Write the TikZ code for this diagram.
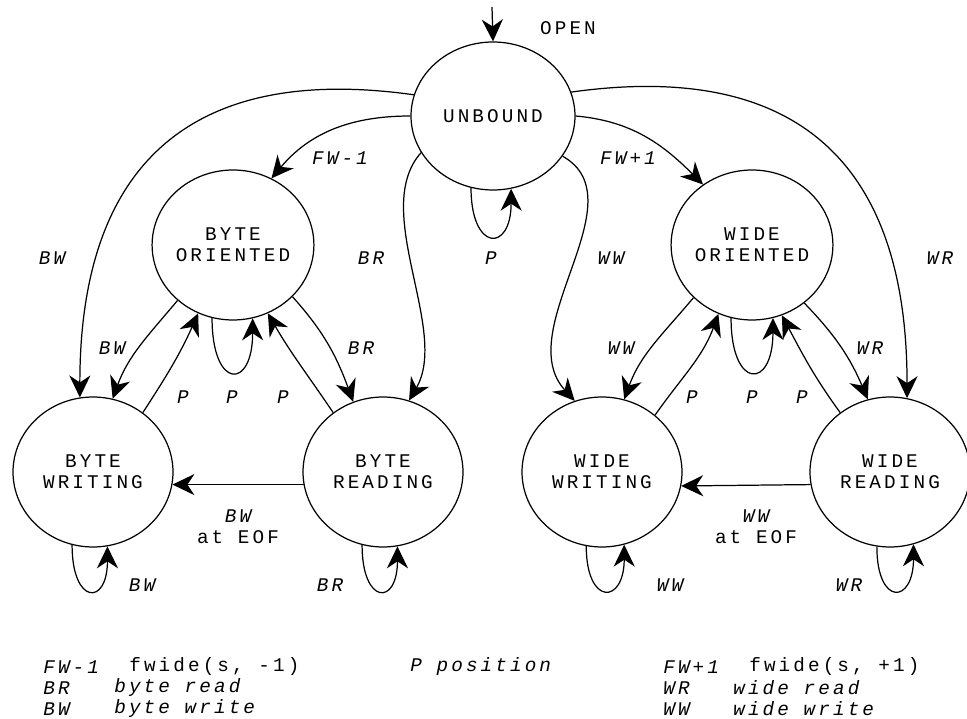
\documentclass[tikz,border=0pt]{standalone}
\usepackage{fontspec}
\setmonofont{Liberation Mono}[LetterSpace=16]
\usepackage{tikz}
\usetikzlibrary{shapes,arrows.meta}
\tikzstyle{state} = [ellipse, draw, line width=0.7pt, minimum width=3.2cm, minimum height=3cm, inner sep=0pt, align=center, font=\ttfamily\fontsize{11}{12}\selectfont]
\tikzstyle{line} = [draw, line width=0.7pt, -{Stealth[length=12.5pt,width=12pt,inset=4pt]}]
\tikzstyle{lbl} = [inner sep=0pt, align=center, font=\ttfamily\itshape\fontsize{11}{12}\selectfont]
\tikzstyle{key} = [inner sep=0pt, anchor=west, font=\ttfamily\itshape\fontsize{11}{12}\selectfont]
\tikzstyle{keytext} = [inner sep=0pt, anchor=west, font=\ttfamily\fontsize{11}{12}\selectfont]

\begin{document}
\begin{tikzpicture}[x=0.02cm, y=0.02cm]
\useasboundingbox (0,0) rectangle (967,-719);
\node [state, minimum width=3.28cm, minimum height=2.96cm] (unbound) at (493,-116) {UNBOUND};
\node [state] (byte-or) at (233,-245) {BYTE\\ORIENTED};
\node [state] (wide-or) at (752,-245) {WIDE\\ORIENTED};
\node [state] (byte-wr) at (93,-472) {BYTE\\WRITING};
\node [state] (byte-rd) at (383,-472) {BYTE\\READING};
\node [state] (wide-wr) at (602,-472) {WIDE\\WRITING};
\node [state] (wide-rd) at (890,-472) {WIDE\\READING};
\coordinate (open-in) at (492,-7);
\path [line] (open-in) -- (unbound.90);
\node [lbl, font=\ttfamily\fontsize{11}{12}\selectfont] (open-lbl) at (568,-28) {OPEN};
\path [line] (unbound.180) to[out=180,in=50] (byte-or.60);
\path [line] (unbound.165) to[out=172,in=90,looseness=1.3] (byte-wr.100);
\path [line] (unbound.207) .. controls (370,-210) and (450,-330) .. (byte-rd.70);
\path [line] (unbound.-107) .. controls +(0,-64) and +(0,-64) .. (unbound.-76);
\path [line] (unbound.-30) .. controls (640,-200) and (510,-330) .. (wide-wr.111);
\path [line] (unbound.0) to[out=-5,in=135] (wide-or.129);
\path [line] (unbound.17) to[out=8,in=90,looseness=1.3] (wide-rd.77);
\node [lbl] (fw-minus) at (340,-158) {FW-1};
\node [lbl] (fw-plus) at (628,-158) {FW+1};
\node [lbl] (bw-outer) at (52,-258) {BW};
\node [lbl] (br-outer) at (371,-258) {BR};
\node [lbl] (p-unbound) at (491,-258) {P};
\node [lbl] (ww-outer) at (611,-258) {WW};
\node [lbl] (wr-outer) at (940,-258) {WR};
\path [line] (byte-or.225) to[out=-130,in=70] (byte-wr.75);
\path [line] (byte-wr.50) to[out=57,in=-114] (byte-or.243);
\path [line] (byte-or.-106) .. controls +(0,-72) and +(0,-72) .. (byte-or.-75);
\path [line] (byte-rd.130) to[out=124,in=-60] (byte-or.-63);
\path [line] (byte-or.-41) to[out=-48,in=110] (byte-rd.113);
\path [line] (byte-rd.189) -- (byte-wr.-9);
\path [line] (byte-wr.-106) .. controls +(0,-60) and +(0,-60) .. (byte-wr.-79);
\path [line] (byte-rd.-106) .. controls +(0,-60) and +(0,-60) .. (byte-rd.-79);
\node [lbl] (bw-inner) at (112,-348) {BW};
\node [lbl] (br-inner) at (361,-348) {BR};
\node [lbl] (p-byte-wr) at (183,-397) {P};
\node [lbl] (p-byte-or) at (232,-397) {P};
\node [lbl] (p-byte-rd) at (283,-397) {P};
\node [lbl] (bw-eof) at (238,-527) {BW\\\upshape at EOF};
\node [lbl] (bw-loop) at (142,-585) {BW};
\node [lbl] (br-loop) at (330,-585) {BR};
\path [line] (wide-or.222) to[out=-130,in=70] (wide-wr.73);
\path [line] (wide-wr.47) to[out=55,in=-110] (wide-or.244);
\path [line] (wide-or.-106) .. controls +(0,-72) and +(0,-72) .. (wide-or.-74);
\path [line] (wide-rd.130) to[out=126,in=-62] (wide-or.-67);
\path [line] (wide-or.-48) to[out=-46,in=113] (wide-rd.107);
\path [line] (wide-rd.189) -- (wide-wr.-10);
\path [line] (wide-wr.-102) .. controls +(0,-60) and +(0,-60) .. (wide-wr.-73);
\path [line] (wide-rd.-100) .. controls +(0,-60) and +(0,-60) .. (wide-rd.-72);
\node [lbl] (ww-inner) at (621,-348) {WW};
\node [lbl] (wr-inner) at (870,-348) {WR};
\node [lbl] (p-wide-wr) at (692,-397) {P};
\node [lbl] (p-wide-or) at (752,-397) {P};
\node [lbl] (p-wide-rd) at (802,-397) {P};
\node [lbl] (ww-eof) at (756,-527) {WW\\\upshape at EOF};
\node [lbl] (ww-loop) at (670,-585) {WW};
\node [lbl] (wr-loop) at (849,-585) {WR};
\node [key] (key-fwm) at (43,-667) {FW-1};
\node [keytext] (txt-fwm) at (129,-667) {fwide(s, -1)};
\node [key] (key-br) at (43,-688) {BR};
\node [key] (txt-br) at (114,-688) {byte read};
\node [key] (key-bw) at (43,-709) {BW};
\node [key] (txt-bw) at (114,-709) {byte write};
\node [key] (key-p) at (410,-667) {P position};
\node [key] (key-fwp) at (663,-667) {FW+1};
\node [keytext] (txt-fwp) at (749,-667) {fwide(s, +1)};
\node [key] (key-wr) at (663,-688) {WR};
\node [key] (txt-wr) at (733,-688) {wide read};
\node [key] (key-ww) at (663,-709) {WW};
\node [key] (txt-ww) at (733,-709) {wide write};
\end{tikzpicture}
\end{document}
